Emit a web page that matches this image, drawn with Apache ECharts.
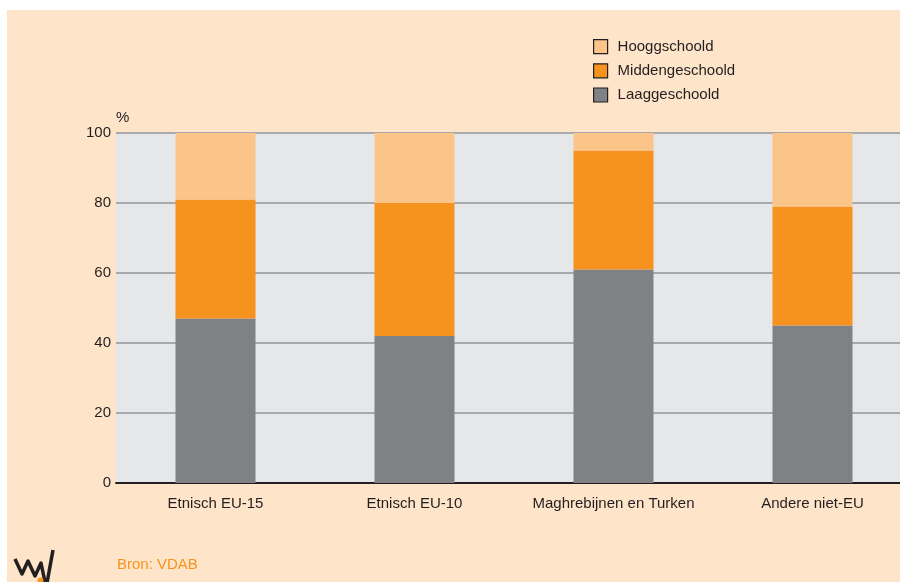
<!DOCTYPE html>
<html>
<head>
<meta charset="utf-8">
<script src="https://cdn.jsdelivr.net/npm/echarts@6/dist/echarts.min.js"></script>
<style>
html, body { margin: 0; padding: 0; background: #fff; overflow: hidden; }
#chart { width: 912px; height: 582px; }
</style>
</head>
<body>
<div id="chart"></div>
<script>
var categories = ['Etnisch EU-15', 'Etnisch EU-10', 'Maghrebijnen en Turken', 'Andere niet-EU'];
var laag = [47, 42, 61, 45];
var midden = [34, 38, 34, 34];
var hoog = [19, 20, 5, 21];
var yTicks = [0, 20, 40, 60, 80, 100];

var font = 'Liberation Sans, Arial, sans-serif';
var chart = echarts.init(document.getElementById('chart'));

var option = {
    backgroundColor: '#ffffff',
    animation: false,
    textStyle: { fontFamily: font },
    graphic: [
        // peach page area
        { type: 'rect', z: -10, shape: { x: 7, y: 10, width: 905, height: 572 }, style: { fill: '#FEE4C9' } },
        // '%' unit label
        { type: 'text', left: 116, top: 110, style: { text: '%', font: '15px ' + font, fill: '#231F20' } },
        // source
        { type: 'text', left: 117, top: 557, style: { text: 'Bron: VDAB', font: '15px ' + font, fill: '#F7941D' } },
        // logo
        { type: 'polyline', shape: { points: [[15, 559], [22, 574], [28, 561], [35, 576], [41, 563], [45, 582]] },
          style: { stroke: '#231F20', lineWidth: 3.5, fill: null, lineJoin: 'round' } },
        { type: 'line', shape: { x1: 47, y1: 583, x2: 53, y2: 550 }, style: { stroke: '#231F20', lineWidth: 3.5 } },
        { type: 'circle', shape: { cx: 40.5, cy: 580.5, r: 3 }, style: { fill: '#F7941D' } }
    ],
    legend: {
        orient: 'vertical',
        left: 588,
        top: 34,
        icon: 'rect',
        itemWidth: 14,
        itemHeight: 14,
        itemGap: 9,
        data: ['Hooggschoold', 'Middengeschoold', 'Laaggeschoold'],
        itemStyle: { borderColor: '#231F20', borderWidth: 1.2 },
        textStyle: { fontSize: 15, color: '#231F20', fontFamily: font, padding: [0, 0, 0, 5] }
    },
    grid: { left: 116, top: 133, width: 796, height: 350, backgroundColor: '#E6E7E8', show: true, borderWidth: 0 },
    xAxis: {
        type: 'category',
        data: categories,
        axisLine: { lineStyle: { color: '#231F20', width: 2 } },
        axisTick: { show: false },
        axisLabel: { interval: 0, fontSize: 15, color: '#231F20', margin: 13, fontFamily: font }
    },
    yAxis: {
        type: 'value',
        min: yTicks[0],
        max: yTicks[yTicks.length - 1],
        interval: 20,
        axisLine: { show: false },
        axisTick: { show: false },
        axisLabel: { fontSize: 15, color: '#231F20', margin: 5, fontFamily: font },
        splitLine: { lineStyle: { color: '#A7A9AC', width: 2 } }
    },
    series: [
        { name: 'Laaggeschoold', type: 'bar', stack: 'total', barWidth: 80, data: laag, itemStyle: { color: '#808184' } },
        { name: 'Middengeschoold', type: 'bar', stack: 'total', barWidth: 80, data: midden, itemStyle: { color: '#F6921E' } },
        { name: 'Hooggschoold', type: 'bar', stack: 'total', barWidth: 80, data: hoog, itemStyle: { color: '#FBC589' } }
    ]
};
chart.setOption(option);
</script>
</body>
</html>
